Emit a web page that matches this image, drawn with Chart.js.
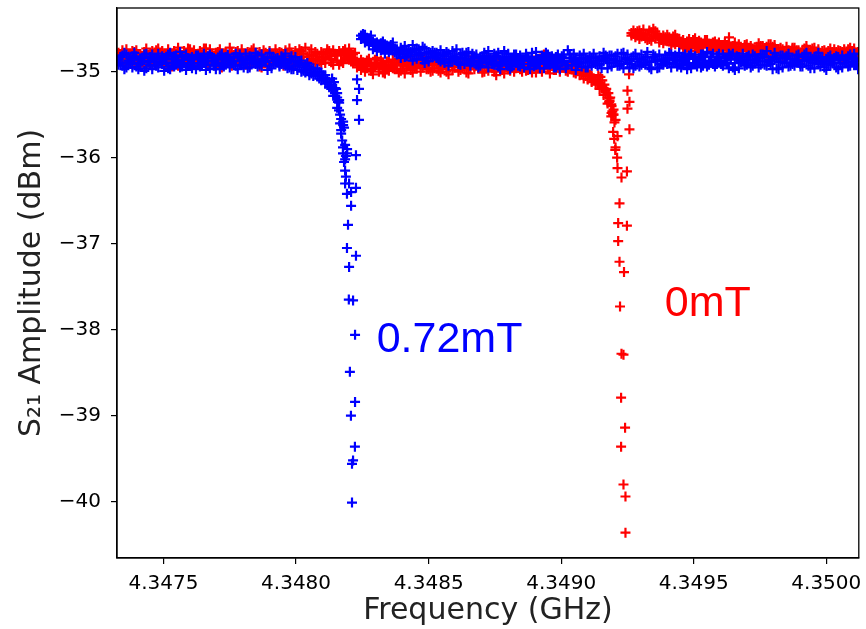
<!DOCTYPE html>
<html>
<head>
<meta charset="utf-8">
<script src="https://cdn.jsdelivr.net/npm/chart.js@4.4.1/dist/chart.umd.min.js"></script>
<style>
  html, body { margin: 0; padding: 0; background: #fff; overflow: hidden; }
  #wrap { width: 866px; height: 629px; position: relative; }
</style>
</head>
<body>
<div id="wrap"><canvas id="s21Chart"></canvas></div>
<script>
// sweep frequency points (GHz), sweeps a/b
const freqGHz = [
  4.347330, 4.347345, 4.347360, 4.347375, 4.347390, 4.347405, 4.347420, 4.347435, 4.347450, 4.347465,
  4.347480, 4.347495, 4.347510, 4.347525, 4.347540, 4.347555, 4.347570, 4.347585, 4.347600, 4.347615,
  4.347630, 4.347645, 4.347660, 4.347675, 4.347690, 4.347705, 4.347720, 4.347735, 4.347750, 4.347765,
  4.347780, 4.347795, 4.347810, 4.347825, 4.347840, 4.347855, 4.347870, 4.347885, 4.347900, 4.347915,
  4.347930, 4.347945, 4.347960, 4.347975, 4.347990, 4.348005, 4.348020, 4.348035, 4.348050, 4.348065,
  4.348080, 4.348095, 4.348110, 4.348125, 4.348140, 4.348155, 4.348170, 4.348185, 4.348200, 4.348215,
  4.348230, 4.348245, 4.348260, 4.348275, 4.348290, 4.348305, 4.348320, 4.348335, 4.348350, 4.348365,
  4.348380, 4.348395, 4.348410, 4.348425, 4.348440, 4.348455, 4.348470, 4.348485, 4.348500, 4.348515,
  4.348530, 4.348545, 4.348560, 4.348575, 4.348590, 4.348605, 4.348620, 4.348635, 4.348650, 4.348665,
  4.348680, 4.348695, 4.348710, 4.348725, 4.348740, 4.348755, 4.348770, 4.348785, 4.348800, 4.348815,
  4.348830, 4.348845, 4.348860, 4.348875, 4.348890, 4.348905, 4.348920, 4.348935, 4.348950, 4.348965,
  4.348980, 4.348995, 4.349010, 4.349025, 4.349040, 4.349055, 4.349070, 4.349085, 4.349100, 4.349115,
  4.349130, 4.349145, 4.349160, 4.349175, 4.349190, 4.349205, 4.349220, 4.349235, 4.349250, 4.349265,
  4.349280, 4.349295, 4.349310, 4.349325, 4.349340, 4.349355, 4.349370, 4.349385, 4.349400, 4.349415,
  4.349430, 4.349445, 4.349460, 4.349475, 4.349490, 4.349505, 4.349520, 4.349535, 4.349550, 4.349565,
  4.349580, 4.349595, 4.349610, 4.349625, 4.349640, 4.349655, 4.349670, 4.349685, 4.349700, 4.349715,
  4.349730, 4.349745, 4.349760, 4.349775, 4.349790, 4.349805, 4.349820, 4.349835, 4.349850, 4.349865,
  4.349880, 4.349895, 4.349910, 4.349925, 4.349940, 4.349955, 4.349970, 4.349985, 4.350000, 4.350015,
  4.350030, 4.350045, 4.350060, 4.350075, 4.350090, 4.350105, 4.350120
];
// sweep frequency points (GHz), sweeps c/d
const freqGHz_cd = [
  4.3473375, 4.3473525, 4.3473675, 4.3473825, 4.3473975, 4.3474125, 4.3474275, 4.3474425, 4.3474575, 4.3474725,
  4.3474875, 4.3475025, 4.3475175, 4.3475325, 4.3475475, 4.3475625, 4.3475775, 4.3475925, 4.3476075, 4.3476225,
  4.3476375, 4.3476525, 4.3476675, 4.3476825, 4.3476975, 4.3477125, 4.3477275, 4.3477425, 4.3477575, 4.3477725,
  4.3477875, 4.3478025, 4.3478175, 4.3478325, 4.3478475, 4.3478625, 4.3478775, 4.3478925, 4.3479075, 4.3479225,
  4.3479375, 4.3479525, 4.3479675, 4.3479825, 4.3479975, 4.3480125, 4.3480275, 4.3480425, 4.3480575, 4.3480725,
  4.3480875, 4.3481025, 4.3481175, 4.3481325, 4.3481475, 4.3481625, 4.3481775, 4.3481925, 4.3482075, 4.3482225,
  4.3482375, 4.3482525, 4.3482675, 4.3482825, 4.3482975, 4.3483125, 4.3483275, 4.3483425, 4.3483575, 4.3483725,
  4.3483875, 4.3484025, 4.3484175, 4.3484325, 4.3484475, 4.3484625, 4.3484775, 4.3484925, 4.3485075, 4.3485225,
  4.3485375, 4.3485525, 4.3485675, 4.3485825, 4.3485975, 4.3486125, 4.3486275, 4.3486425, 4.3486575, 4.3486725,
  4.3486875, 4.3487025, 4.3487175, 4.3487325, 4.3487475, 4.3487625, 4.3487775, 4.3487925, 4.3488075, 4.3488225,
  4.3488375, 4.3488525, 4.3488675, 4.3488825, 4.3488975, 4.3489125, 4.3489275, 4.3489425, 4.3489575, 4.3489725,
  4.3489875, 4.3490025, 4.3490175, 4.3490325, 4.3490475, 4.3490625, 4.3490775, 4.3490925, 4.3491075, 4.3491225,
  4.3491375, 4.3491525, 4.3491675, 4.3491825, 4.3491975, 4.3492125, 4.3492275, 4.3492425, 4.3492575, 4.3492725,
  4.3492875, 4.3493025, 4.3493175, 4.3493325, 4.3493475, 4.3493625, 4.3493775, 4.3493925, 4.3494075, 4.3494225,
  4.3494375, 4.3494525, 4.3494675, 4.3494825, 4.3494975, 4.3495125, 4.3495275, 4.3495425, 4.3495575, 4.3495725,
  4.3495875, 4.3496025, 4.3496175, 4.3496325, 4.3496475, 4.3496625, 4.3496775, 4.3496925, 4.3497075, 4.3497225,
  4.3497375, 4.3497525, 4.3497675, 4.3497825, 4.3497975, 4.3498125, 4.3498275, 4.3498425, 4.3498575, 4.3498725,
  4.3498875, 4.3499025, 4.3499175, 4.3499325, 4.3499475, 4.3499625, 4.3499775, 4.3499925, 4.3500075, 4.3500225,
  4.3500375, 4.3500525, 4.3500675, 4.3500825, 4.3500975, 4.3501125, 4.3501275
];

// S21 (dBm), 0.72 mT, four sweeps
const s21_072mT_a = [
  -34.86,-34.93,-34.80,-34.91,-34.84,-34.97,-34.88,-34.79,-34.92,-34.85,
  -34.95,-34.82,-34.89,-34.78,-34.94,-34.87,-34.83,-34.98,-34.86,-34.90,
  -34.81,-34.93,-34.87,-34.96,-34.84,-34.89,-34.79,-34.92,-34.86,-34.83,
  -34.97,-34.85,-34.90,-34.82,-34.88,-34.94,-34.80,-34.87,-34.93,-34.84,
  -34.89,-34.82,-34.93,-34.86,-34.97,-34.89,-35.00,-34.92,-35.04,-34.96,
  -35.05,-35.01,-35.14,-35.12,-35.28,-35.30,-35.55,-35.85,-36.30,-37.66,
  -35.09,-34.58,-34.66,-34.61,-34.74,-34.66,-34.75,-34.68,-34.77,-34.70,
  -34.80,-34.72,-34.83,-34.74,-34.69,-34.85,-34.78,-34.73,-34.88,-34.76,
  -34.84,-34.75,-34.90,-34.79,-34.86,-34.74,-34.92,-34.81,-34.77,-34.89,
  -34.80,-34.93,-34.85,-34.76,-34.91,-34.83,-34.97,-34.87,-34.79,-34.94,
  -34.88,-34.81,-34.95,-34.84,-34.78,-34.92,-34.86,-34.96,-34.80,-34.89,
  -34.83,-34.97,-34.87,-34.75,-34.93,-34.85,-34.90,-34.79,-34.95,-34.84,
  -34.91,-34.82,-34.88,-34.96,-34.81,-34.87,-34.93,-34.78,-34.90,-34.85,
  -34.79,-34.94,-34.86,-34.83,-34.97,-34.88,-34.80,-34.92,-34.84,-34.95,
  -34.87,-34.78,-34.91,-34.85,-34.96,-34.82,-34.89,-34.93,-34.77,-34.88,
  -34.94,-34.84,-34.80,-34.90,-34.86,-34.98,-34.83,-34.79,-34.92,-34.87,
  -34.82,-34.95,-34.88,-34.76,-34.91,-34.85,-34.97,-34.81,-34.89,-34.93,
  -34.86,-34.80,-34.94,-34.87,-34.83,-34.96,-34.78,-34.90,-34.85,-34.92,
  -34.84,-34.97,-34.81,-34.89,-34.93,-34.79,-34.88
];
const s21_072mT_b = [
  -34.92,-34.81,-34.95,-34.87,-34.78,-34.90,-34.84,-34.96,-34.83,-34.89,
  -34.79,-34.91,-34.86,-34.97,-34.82,-34.88,-34.94,-34.80,-34.92,-34.85,
  -34.90,-34.84,-34.98,-34.80,-34.93,-34.86,-34.91,-34.83,-34.95,-34.88,
  -34.83,-34.92,-34.79,-34.95,-34.86,-34.81,-34.93,-34.89,-34.78,-34.91,
  -34.84,-34.91,-34.79,-34.95,-34.88,-34.98,-34.87,-35.01,-34.94,-35.05,
  -34.97,-35.10,-35.04,-35.18,-35.21,-35.42,-35.68,-36.02,-37.27,-39.52,
  -35.33,-34.62,-34.57,-34.69,-34.65,-34.76,-34.67,-34.79,-34.71,-34.66,
  -34.74,-34.84,-34.70,-34.79,-34.87,-34.73,-34.81,-34.90,-34.77,-34.83,
  -34.78,-34.88,-34.82,-34.93,-34.76,-34.85,-34.80,-34.91,-34.87,-34.79,
  -34.92,-34.84,-34.78,-34.95,-34.88,-34.81,-34.90,-34.76,-34.93,-34.85,
  -34.80,-34.94,-34.87,-34.91,-34.83,-34.77,-34.96,-34.84,-34.90,-34.82,
  -34.95,-34.86,-34.80,-34.92,-34.84,-34.98,-34.81,-34.89,-34.86,-34.93,
  -34.84,-34.91,-34.78,-34.87,-34.94,-34.82,-34.88,-34.96,-34.80,-34.91,
  -34.93,-34.85,-34.90,-34.77,-34.88,-34.82,-34.95,-34.86,-34.91,-34.80,
  -34.81,-34.92,-34.84,-34.97,-34.79,-34.90,-34.85,-34.80,-34.94,-34.83,
  -34.88,-34.79,-34.93,-34.84,-34.81,-34.90,-34.96,-34.87,-34.83,-34.95,
  -34.90,-34.84,-34.80,-34.93,-34.87,-34.78,-34.89,-34.95,-34.82,-34.86,
  -34.93,-34.87,-34.83,-34.78,-34.96,-34.85,-34.91,-34.84,-34.98,-34.81,
  -34.90,-34.83,-34.95,-34.86,-34.80,-34.92,-34.97
];
const s21_072mT_c = [
  -34.83,-34.97,-34.89,-34.82,-34.94,-34.85,-34.99,-34.87,-34.80,-34.93,
  -34.88,-34.84,-34.96,-34.90,-34.81,-34.95,-34.86,-34.91,-34.83,-34.97,
  -34.85,-34.90,-34.82,-34.88,-34.97,-34.81,-34.94,-34.86,-34.90,-34.79,
  -34.92,-34.87,-34.96,-34.84,-34.91,-34.89,-34.85,-34.98,-34.83,-34.88,
  -34.94,-34.85,-34.90,-34.97,-34.83,-34.93,-34.99,-34.90,-35.02,-35.00,
  -35.08,-35.04,-35.09,-35.20,-35.19,-35.36,-35.62,-35.95,-36.56,-38.84,
  -35.56,-34.56,-34.61,-34.64,-34.70,-34.68,-34.73,-34.70,-34.75,-34.78,
  -34.77,-34.79,-34.76,-34.82,-34.75,-34.80,-34.71,-34.84,-34.78,-34.81,
  -34.86,-34.80,-34.77,-34.85,-34.83,-34.89,-34.84,-34.78,-34.93,-34.82,
  -34.87,-34.90,-34.82,-34.86,-34.79,-34.94,-34.85,-34.91,-34.84,-34.80,
  -34.93,-34.86,-34.82,-34.97,-34.89,-34.85,-34.81,-34.91,-34.87,-34.95,
  -34.80,-34.89,-34.93,-34.84,-34.79,-34.88,-34.94,-34.85,-34.82,-34.90,
  -34.87,-34.96,-34.84,-34.81,-34.90,-34.93,-34.79,-34.86,-34.95,-34.82,
  -34.85,-34.80,-34.92,-34.89,-34.83,-34.96,-34.87,-34.81,-34.90,-34.86,
  -34.94,-34.86,-34.80,-34.90,-34.84,-34.87,-34.95,-34.82,-34.89,-34.91,
  -34.82,-34.91,-34.87,-34.96,-34.79,-34.85,-34.89,-34.93,-34.86,-34.80,
  -34.87,-34.92,-34.83,-34.89,-34.97,-34.84,-34.81,-34.90,-34.94,-34.85,
  -34.81,-34.91,-34.87,-34.93,-34.85,-34.82,-34.94,-34.88,-34.83,-34.89,
  -34.95,-34.86,-34.90,-34.82,-34.88,-34.85,-34.91
];
const s21_072mT_d = [
  -34.90,-34.78,-34.87,-34.95,-34.82,-34.91,-34.80,-34.89,-34.97,-34.84,
  -34.86,-34.99,-34.80,-34.85,-34.92,-34.77,-34.90,-34.84,-34.96,-34.81,
  -34.94,-34.79,-34.88,-34.83,-34.91,-34.97,-34.85,-34.80,-34.87,-34.93,
  -34.80,-34.95,-34.86,-34.90,-34.78,-34.92,-34.87,-34.83,-34.96,-34.85,
  -34.92,-34.87,-34.96,-34.82,-34.93,-34.90,-34.95,-34.98,-34.97,-35.03,
  -35.00,-35.07,-35.12,-35.15,-35.25,-35.33,-35.58,-35.90,-36.40,-38.06,
  -35.20,-34.60,-34.64,-34.58,-34.67,-34.72,-34.65,-34.74,-34.69,-34.73,
  -34.79,-34.75,-34.82,-34.77,-34.80,-34.74,-34.86,-34.79,-34.83,-34.78,
  -34.81,-34.86,-34.79,-34.88,-34.82,-34.91,-34.78,-34.85,-34.90,-34.84,
  -34.95,-34.82,-34.89,-34.84,-34.92,-34.78,-34.88,-34.83,-34.97,-34.89,
  -34.84,-34.91,-34.79,-34.87,-34.94,-34.89,-34.83,-34.78,-34.92,-34.86,
  -34.89,-34.82,-34.96,-34.80,-34.87,-34.91,-34.84,-34.95,-34.88,-34.79,
  -34.93,-34.86,-34.81,-34.90,-34.85,-34.79,-34.91,-34.84,-34.87,-34.96,
  -34.88,-34.92,-34.83,-34.95,-34.80,-34.86,-34.91,-34.89,-34.78,-34.90,
  -34.83,-34.95,-34.88,-34.81,-34.90,-34.94,-34.80,-34.87,-34.92,-34.79,
  -34.91,-34.87,-34.84,-34.79,-34.95,-34.82,-34.86,-34.90,-34.81,-34.93,
  -34.85,-34.80,-34.92,-34.86,-34.83,-34.96,-34.88,-34.84,-34.79,-34.91,
  -34.89,-34.94,-34.80,-34.84,-34.90,-34.87,-34.83,-34.95,-34.91,-34.86,
  -34.82,-34.90,-34.86,-34.94,-34.84,-34.91,-34.80
];
// extra readings around the 0.72 mT resonance
const dip_072mT_freq = [
  4.348226, 4.348226, 4.348196, 4.348192, 4.348226, 4.348199, 4.348203, 4.348207, 4.348222,
  4.348211, 4.348211, 4.348170, 4.348174, 4.348177, 4.348181, 4.348185, 4.348188, 4.348181, 4.348177,
  4.348166, 4.348162, 4.348158, 4.348155, 4.348151, 4.348192, 4.348188, 4.348143, 4.348136, 4.348147,
  4.348166, 4.348185
];
const dip_072mT_s21 = [
  -35.97, -36.35, -36.78, -37.05, -37.14, -37.65, -38.49, -39.00, -39.36,
  -39.56, -40.01, -35.72, -35.80, -35.88, -36.05, -36.15, -36.22, -35.65, -35.95,
  -35.50, -35.45, -35.35, -35.25, -35.20, -36.42, -35.98, -35.12, -35.08, -35.28,
  -35.60, -36.30
];

// S21 (dBm), 0 mT, four sweeps
const s21_0mT_a = [
  -34.78,-34.88,-34.74,-34.85,-34.91,-34.80,-34.86,-34.73,-34.89,-34.82,
  -34.87,-34.76,-34.93,-34.81,-34.84,-34.72,-34.90,-34.79,-34.86,-34.75,
  -34.92,-34.80,-34.85,-34.74,-34.88,-34.83,-34.95,-34.77,-34.84,-34.90,
  -34.76,-34.86,-34.81,-34.93,-34.73,-34.87,-34.82,-34.78,-34.91,-34.84,
  -34.80,-34.89,-34.75,-34.85,-34.94,-34.79,-34.83,-34.72,-34.88,-34.81,
  -34.86,-34.77,-34.90,-34.82,-34.75,-34.87,-34.79,-34.84,-34.73,-34.89,
  -34.95,-34.86,-35.00,-34.89,-34.97,-34.84,-34.93,-35.02,-34.88,-34.96,
  -34.90,-34.99,-34.85,-34.94,-35.01,-34.87,-34.92,-34.83,-34.97,-34.91,
  -34.86,-34.95,-34.89,-35.03,-34.91,-34.84,-34.98,-34.90,-34.94,-34.82,
  -34.93,-34.88,-35.00,-34.85,-34.96,-34.91,-34.87,-35.02,-34.89,-34.95,
  -34.84,-34.97,-34.91,-34.88,-35.01,-34.86,-34.93,-34.80,-34.96,-34.90,
  -34.98,-34.87,-34.94,-35.00,-34.89,-35.02,-34.95,-35.08,-35.00,-35.12,
  -35.15,-35.13,-35.27,-35.30,-35.48,-35.56,-36.53,-39.80,-35.22,-34.55,
  -34.60,-34.52,-34.58,-34.63,-34.54,-34.61,-34.66,-34.58,-34.64,-34.69,
  -34.57,-34.70,-34.63,-34.72,-34.66,-34.61,-34.74,-34.68,-34.63,-34.71,
  -34.65,-34.76,-34.69,-34.78,-34.71,-34.66,-34.80,-34.73,-34.68,-34.77,
  -34.74,-34.67,-34.79,-34.71,-34.76,-34.69,-34.81,-34.74,-34.84,-34.77,
  -34.72,-34.83,-34.76,-34.70,-34.85,-34.79,-34.74,-34.88,-34.78,-34.73,
  -34.81,-34.75,-34.86,-34.79,-34.72,-34.84,-34.77
];
const s21_0mT_b = [
  -34.86,-34.75,-34.92,-34.80,-34.77,-34.89,-34.82,-34.94,-34.79,-34.87,
  -34.73,-34.90,-34.81,-34.88,-34.76,-34.93,-34.83,-34.87,-34.74,-34.91,
  -34.79,-34.86,-34.73,-34.91,-34.82,-34.77,-34.84,-34.89,-34.72,-34.85,
  -34.88,-34.74,-34.92,-34.79,-34.86,-34.81,-34.95,-34.83,-34.76,-34.89,
  -34.85,-34.78,-34.90,-34.73,-34.82,-34.87,-34.76,-34.93,-34.80,-34.86,
  -34.79,-34.91,-34.84,-34.76,-34.92,-34.81,-34.88,-34.74,-34.86,-34.80,
  -34.88,-34.98,-34.92,-34.85,-35.03,-34.90,-34.87,-34.95,-34.99,-34.86,
  -34.97,-34.89,-35.02,-34.91,-34.86,-34.96,-35.00,-34.88,-34.93,-34.99,
  -34.92,-35.01,-34.87,-34.94,-34.98,-34.89,-34.85,-34.96,-35.02,-34.91,
  -34.88,-34.95,-34.91,-34.99,-34.86,-35.04,-34.93,-34.89,-34.97,-34.87,
  -34.96,-34.90,-34.86,-34.98,-34.93,-35.01,-34.88,-34.95,-34.91,-34.85,
  -34.93,-35.00,-34.88,-34.95,-34.97,-34.99,-35.04,-34.98,-35.09,-35.06,
  -35.10,-35.20,-35.19,-35.37,-35.40,-35.88,-37.21,-38.29,-35.43,-34.58,
  -34.55,-34.62,-34.51,-34.57,-34.64,-34.53,-34.60,-34.67,-34.57,-34.63,
  -34.68,-34.62,-34.73,-34.65,-34.69,-34.76,-34.64,-34.71,-34.67,-34.74,
  -34.70,-34.66,-34.75,-34.69,-34.79,-34.72,-34.68,-34.76,-34.81,-34.70,
  -34.78,-34.73,-34.70,-34.80,-34.68,-34.77,-34.74,-34.82,-34.71,-34.79,
  -34.80,-34.75,-34.86,-34.74,-34.79,-34.72,-34.84,-34.76,-34.81,-34.87,
  -34.74,-34.82,-34.77,-34.85,-34.80,-34.73,-34.83
];
const s21_0mT_c = [
  -34.81,-34.91,-34.84,-34.76,-34.86,-34.93,-34.77,-34.85,-34.90,-34.75,
  -34.84,-34.80,-34.88,-34.94,-34.79,-34.85,-34.76,-34.92,-34.81,-34.86,
  -34.87,-34.73,-34.90,-34.83,-34.78,-34.92,-34.80,-34.86,-34.93,-34.77,
  -34.82,-34.91,-34.77,-34.86,-34.80,-34.94,-34.75,-34.88,-34.84,-34.79,
  -34.90,-34.83,-34.86,-34.78,-34.91,-34.74,-34.89,-34.82,-34.85,-34.77,
  -34.83,-34.86,-34.78,-34.89,-34.81,-34.76,-34.90,-34.82,-34.79,-34.85,
  -34.91,-34.94,-34.87,-34.99,-34.92,-34.95,-35.01,-34.88,-34.92,-34.97,
  -34.87,-34.93,-34.96,-34.89,-34.95,-34.91,-34.86,-34.97,-35.00,-34.88,
  -34.99,-34.90,-34.93,-34.87,-34.95,-35.00,-34.92,-34.86,-34.97,-34.94,
  -34.90,-35.01,-34.86,-34.92,-34.94,-34.89,-34.98,-34.95,-34.91,-35.00,
  -34.92,-34.87,-34.99,-34.93,-34.89,-34.95,-35.00,-34.91,-34.86,-34.98,
  -34.90,-34.95,-34.99,-34.88,-34.94,-34.96,-35.03,-35.00,-35.04,-35.10,
  -35.13,-35.18,-35.22,-35.34,-35.44,-36.12,-38.28,-40.36,-35.67,-34.52,
  -34.58,-34.55,-34.61,-34.52,-34.59,-34.56,-34.63,-34.60,-34.65,-34.59,
  -34.64,-34.67,-34.70,-34.62,-34.68,-34.73,-34.66,-34.63,-34.69,-34.66,
  -34.73,-34.69,-34.71,-34.67,-34.74,-34.77,-34.71,-34.69,-34.75,-34.73,
  -34.71,-34.76,-34.73,-34.68,-34.79,-34.74,-34.77,-34.80,-34.75,-34.72,
  -34.78,-34.81,-34.73,-34.79,-34.76,-34.83,-34.80,-34.75,-34.79,-34.77,
  -34.79,-34.76,-34.80,-34.74,-34.82,-34.78,-34.75
];
const s21_0mT_d = [
  -34.84,-34.79,-34.87,-34.91,-34.75,-34.83,-34.89,-34.80,-34.76,-34.92,
  -34.80,-34.86,-34.74,-34.83,-34.89,-34.80,-34.85,-34.73,-34.90,-34.82,
  -34.76,-34.89,-34.82,-34.79,-34.93,-34.74,-34.87,-34.81,-34.78,-34.88,
  -34.91,-34.79,-34.84,-34.75,-34.90,-34.77,-34.86,-34.92,-34.80,-34.74,
  -34.77,-34.93,-34.81,-34.88,-34.76,-34.84,-34.79,-34.87,-34.74,-34.91,
  -34.88,-34.80,-34.74,-34.85,-34.79,-34.92,-34.76,-34.81,-34.88,-34.78,
  -34.93,-34.89,-34.96,-34.91,-34.86,-35.00,-34.89,-34.97,-34.94,-34.90,
  -35.01,-34.92,-34.88,-34.98,-34.93,-34.85,-34.95,-34.91,-34.87,-34.96,
  -34.89,-34.97,-35.00,-34.90,-34.86,-34.94,-34.91,-35.01,-34.88,-34.97,
  -34.96,-34.86,-34.94,-34.90,-35.00,-34.87,-34.95,-34.92,-34.99,-34.88,
  -34.90,-35.00,-34.88,-34.94,-34.87,-34.92,-34.97,-34.89,-35.02,-34.93,
  -34.95,-34.89,-34.92,-34.97,-35.01,-34.98,-35.00,-35.05,-35.03,-35.09,
  -35.11,-35.16,-35.24,-35.31,-35.50,-35.75,-36.23,-39.94,-35.35,-34.56,
  -34.53,-34.59,-34.56,-34.62,-34.50,-34.58,-34.61,-34.64,-34.60,-34.66,
  -34.61,-34.65,-34.68,-34.70,-34.63,-34.67,-34.72,-34.66,-34.70,-34.68,
  -34.68,-34.72,-34.66,-34.74,-34.70,-34.75,-34.73,-34.71,-34.72,-34.76,
  -34.76,-34.70,-34.75,-34.73,-34.71,-34.79,-34.72,-34.77,-34.78,-34.74,
  -34.75,-34.78,-34.82,-34.77,-34.73,-34.80,-34.78,-34.82,-34.76,-34.80,
  -34.77,-34.80,-34.74,-34.81,-34.76,-34.79,-34.82
];
// extra readings around the 0 mT resonance
const dip_0mT_freq = [
  4.349201, 4.349204, 4.349211, 4.349215, 4.349215, 4.349222, 4.349226, 4.349226, 4.349237,
  4.349241, 4.349256, 4.349248, 4.349248, 4.349185, 4.349189, 4.349193, 4.349196, 4.349178,
  4.349170, 4.349163, 4.349155, 4.349196, 4.349200, 4.349189, 4.349181, 4.349148, 4.349140, 4.349633
];
const dip_0mT_s21 = [
  -35.59, -35.91, -36.00, -36.76, -36.97, -37.73, -38.79, -39.36, -37.33,
  -39.14, -35.03, -36.16, -36.79, -35.30, -35.38, -35.46, -35.50, -35.25,
  -35.20, -35.15, -35.10, -35.70, -35.78, -35.52, -35.35, -35.06, -35.04, -34.60
];

const xTicks = [4.3475, 4.3480, 4.3485, 4.3490, 4.3495, 4.3500];
const yTicks = [-40, -39, -38, -37, -36, -35];

const fieldLabels = ['0.72mT', '0mT'];
const labelFreq = [4.348304, 4.349391];
const labelS21 = [-38.26, -37.84];
const labelColors = ['#0000ff', '#ff0000'];

function toPoints(freqs, amps) {
  return freqs.map((f, i) => ({ x: f, y: amps[i] }));
}

const blueData = [].concat(
  toPoints(freqGHz, s21_072mT_a),
  toPoints(freqGHz, s21_072mT_b),
  toPoints(freqGHz_cd, s21_072mT_c),
  toPoints(freqGHz_cd, s21_072mT_d),
  toPoints(dip_072mT_freq, dip_072mT_s21)
);
const redData = [].concat(
  toPoints(freqGHz, s21_0mT_a),
  toPoints(freqGHz, s21_0mT_b),
  toPoints(freqGHz_cd, s21_0mT_c),
  toPoints(freqGHz_cd, s21_0mT_d),
  toPoints(dip_0mT_freq, dip_0mT_s21)
);

const frameAndLabels = {
  id: 'frameAndLabels',
  afterDatasetsDraw(chart) {
    const { ctx, chartArea: a, scales } = chart;
    ctx.save();
    fieldLabels.forEach((t, i) => {
      ctx.font = '43px "Liberation Sans", Arial, sans-serif';
      ctx.fillStyle = labelColors[i];
      ctx.textAlign = 'left';
      ctx.textBaseline = 'alphabetic';
      ctx.fillText(t, scales.x.getPixelForValue(labelFreq[i]), scales.y.getPixelForValue(labelS21[i]));
    });
    ctx.strokeStyle = '#000';
    ctx.lineWidth = 1.3;
    ctx.strokeRect(a.left, a.top, a.right - a.left, a.bottom - a.top);
    ctx.restore();
  }
};

const tickFont = { family: '"DejaVu Sans", sans-serif', size: 20 };
const titleFont = { family: '"DejaVu Sans", sans-serif', size: 30 };
const markerStyle = { pointStyle: 'cross', pointRadius: 5, borderWidth: 2.2 };

const chart = new Chart(document.getElementById('s21Chart'), {
  type: 'scatter',
  data: {
    datasets: [
      Object.assign({ label: '0.72mT', data: blueData, borderColor: '#0000ff', backgroundColor: '#0000ff' }, markerStyle),
      Object.assign({ label: '0mT', data: redData, borderColor: '#ff0000', backgroundColor: '#ff0000' }, markerStyle)
    ]
  },
  options: {
    responsive: true,
    maintainAspectRatio: false,
    animation: false,
    layout: { padding: { top: 8, right: 3, left: 0, bottom: 0 } },
    plugins: {
      legend: { display: false },
      tooltip: { enabled: false }
    },
    scales: {
      x: {
        type: 'linear',
        min: 4.3473246,
        max: 4.3501226,
        afterBuildTicks: (axis) => { axis.ticks = xTicks.map(v => ({ value: v })); },
        afterFit: (axis) => {
          axis.height = 71;
          axis.paddingLeft = 0;
          axis.paddingRight = 0;
        },
        ticks: {
          font: tickFont,
          color: '#000',
          padding: 8,
          maxRotation: 0,
          callback: (v) => Number(v).toFixed(4)
        },
        grid: { drawOnChartArea: false, drawTicks: true, tickLength: 6, color: '#000', lineWidth: 1.2 },
        border: { display: true, color: '#000', width: 1.3 },
        title: { display: true, text: 'Frequency (GHz)', font: titleFont, color: '#222', padding: { top: 0, bottom: 0 } }
      },
      y: {
        min: -40.655,
        max: -34.259,
        afterBuildTicks: (axis) => { axis.ticks = yTicks.map(v => ({ value: v })); },
        afterFit: (axis) => {
          axis.width = 117;
          axis.paddingTop = 0;
          axis.paddingBottom = 0;
        },
        ticks: {
          font: tickFont,
          color: '#000',
          padding: 10,
          callback: (v) => '\u2212' + Math.abs(v)
        },
        grid: { drawOnChartArea: false, drawTicks: true, tickLength: 6, color: '#000', lineWidth: 1.2 },
        border: { display: true, color: '#000', width: 1.3 },
        title: { display: true, text: 'S\u2082\u2081 Amplitude (dBm)', font: titleFont, color: '#222', padding: { top: 14, bottom: 0 } }
      }
    }
  },
  plugins: [frameAndLabels]
});

// the plot frame's right edge sits at x = 863 in the figure
const rightGap = chart.chartArea.right - 863;
if (Math.abs(rightGap) > 0.5) {
  chart.options.layout.padding.right += rightGap;
  chart.update();
}
</script>
</body>
</html>
